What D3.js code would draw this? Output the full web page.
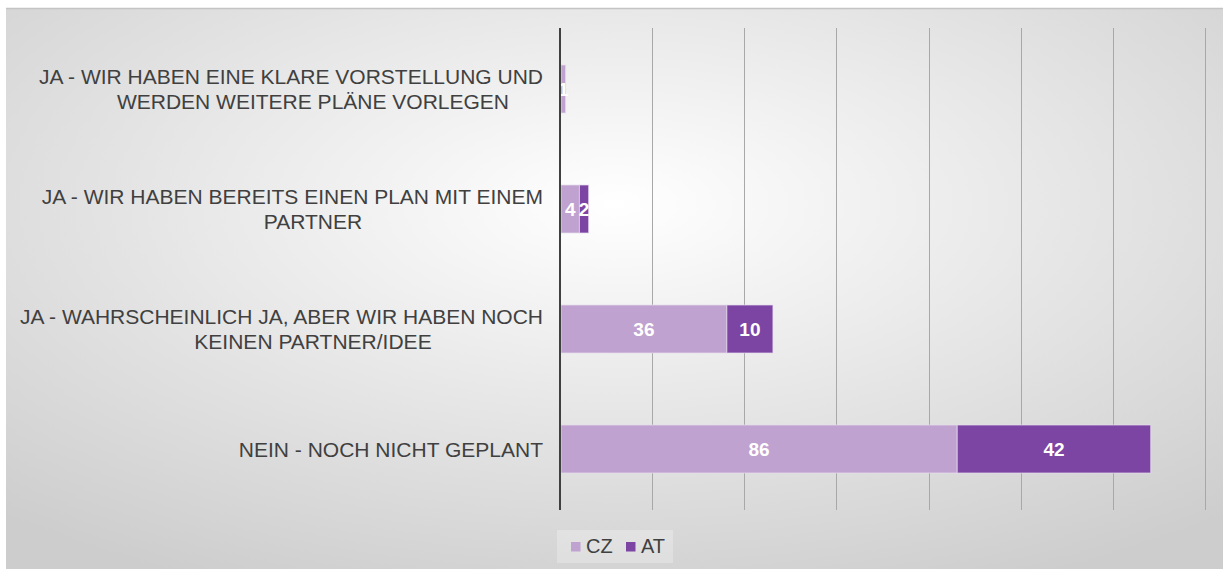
<!DOCTYPE html>
<html><head><meta charset="utf-8">
<script src="https://cdn.jsdelivr.net/npm/d3@7"></script>
<style>
html,body{margin:0;padding:0;background:#fff;}
svg{display:block;font-family:"Liberation Sans",Arial,sans-serif;}
</style></head>
<body><svg id="c" width="1223" height="569"></svg>
<script>
const categories = [
  ["JA - WIR HABEN EINE KLARE VORSTELLUNG UND","WERDEN WEITERE PLÄNE VORLEGEN"],
  ["JA - WIR HABEN BEREITS EINEN PLAN MIT EINEM","PARTNER"],
  ["JA - WAHRSCHEINLICH JA, ABER WIR HABEN NOCH","KEINEN PARTNER/IDEE"],
  ["NEIN - NOCH NICHT GEPLANT"]
];
const seriesNames = ["CZ","AT"];
const czValues = [1, 4, 36, 86];
const atValues = [0, 2, 10, 42];
const xTicks = [0,20,40,60,80,100,120,140];
const colors = ["#bfa2cf","#7c45a4"];

const svg = d3.select("#c");
const W = 1223, H = 569;
const defs = svg.append("defs");
const rg = defs.append("radialGradient").attr("id","bg").attr("cx","50%").attr("cy","35%").attr("r","75%");
rg.append("stop").attr("offset","0%").attr("stop-color","#ffffff");
rg.append("stop").attr("offset","100%").attr("stop-color","#cdcdcd");

svg.append("rect").attr("x",6).attr("y",8).attr("width",W-6).attr("height",H-8).attr("fill","url(#bg)");
svg.append("line").attr("x1",6).attr("x2",W).attr("y1",8.5).attr("y2",8.5).attr("stroke","#c4c4c4").attr("stroke-width",1.5);

const x = d3.scaleLinear().domain([0,140]).range([560,1205]);
const y = d3.scaleBand().domain(d3.range(categories.length)).range([29,509]).paddingInner(0.6).paddingOuter(0.3);

// gridlines
svg.append("g").selectAll("line").data(xTicks.slice(1)).join("line")
  .attr("x1",d=>Math.round(x(d))+0.5).attr("x2",d=>Math.round(x(d))+0.5)
  .attr("y1",28).attr("y2",510).attr("stroke","#a8a8a8").attr("stroke-width",1);

const stacked = categories.map((c,i)=>[
  {s:0, x0:0, x1:czValues[i], v:czValues[i], i},
  {s:1, x0:czValues[i], x1:czValues[i]+atValues[i], v:atValues[i], i}
]).flat();

svg.append("g").selectAll("rect").data(stacked.filter(d=>d.v>0)).join("rect")
  .attr("x",d=>x(d.x0)+1).attr("width",d=>x(d.x1)-x(d.x0))
  .attr("y",d=>y(d.i)).attr("height",y.bandwidth())
  .attr("fill",d=>colors[d.s]).attr("stroke","#e8dff0").attr("stroke-width",1).attr("stroke-opacity",0.7);

svg.append("g").selectAll("text").data(stacked.filter(d=>d.v>0)).join("text")
  .attr("x",d=>x((d.x0+d.x1)/2)+1).attr("y",d=>y(d.i)+y.bandwidth()/2)
  .attr("dy","0.36em").attr("text-anchor","middle")
  .attr("fill","#fff").attr("font-weight","bold").attr("font-size",19)
  .text(d=>d.v);

// axis line
svg.append("line").attr("x1",560).attr("x2",560).attr("y1",28).attr("y2",510).attr("stroke","#404040").attr("stroke-width",2);

// category labels
const lab = svg.append("g").selectAll("text").data(categories).join("text")
  .attr("fill","#404040").attr("font-size",21);
lab.each(function(lines,i){
  const t = d3.select(this);
  const cy = y(i)+y.bandwidth()/2;
  const lh = 25;
  const start = cy - (lines.length-1)*lh/2;
  lines.forEach((l,k)=>{
    t.append("tspan").attr("x",k===0?543:313).attr("text-anchor",k===0?"end":"middle")
      .attr("y",start+k*lh).attr("dy","0.36em").text(l);
  });
});

// legend
const lg = svg.append("g");
lg.append("rect").attr("x",557).attr("y",530).attr("width",116).attr("height",33).attr("fill","#ffffff").attr("opacity",0.25);
const items = [{n:"CZ",c:colors[0],x:571},{n:"AT",c:colors[1],x:626}];
items.forEach(it=>{
  lg.append("rect").attr("x",it.x).attr("y",542).attr("width",9.5).attr("height",9.5).attr("fill",it.c);
  lg.append("text").attr("x",it.x+15).attr("y",546).attr("dy","0.36em").attr("font-size",20).attr("fill","#404040").text(it.n);
});
</script></body></html>
